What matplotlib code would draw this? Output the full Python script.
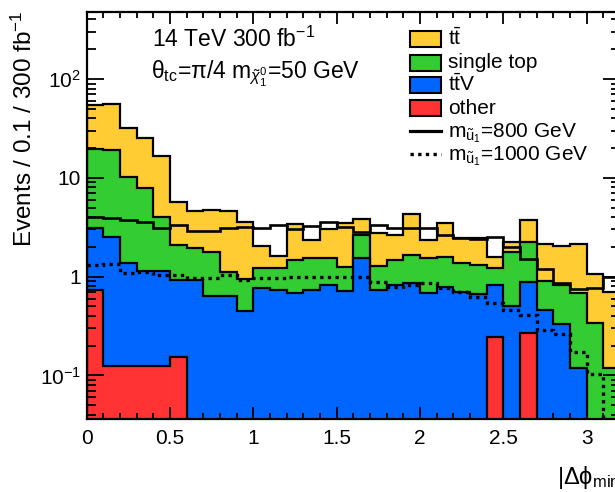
import matplotlib
matplotlib.use("Agg")
import matplotlib.pyplot as plt
import numpy as np
from matplotlib.patches import Rectangle
from matplotlib.lines import Line2D
from matplotlib.ticker import FixedLocator, NullFormatter, MultipleLocator

plt.rcParams['font.family'] = ['Liberation Sans', 'DejaVu Sans']
plt.rcParams['mathtext.fontset'] = 'custom'
plt.rcParams['mathtext.rm'] = 'Liberation Sans'
plt.rcParams['mathtext.it'] = 'Liberation Sans:italic'

W, H = 615, 492

# bin edges of |dphi_min|, width 0.1
edges = np.round(np.arange(0, 3.21, 0.1), 2)

# background components (events per bin), bottom to top
other = [0.73, 0.124, 0.124, 0.124, 0.124, 0.152, 0, 0, 0, 0, 0, 0, 0, 0, 0, 0,
         0, 0, 0, 0, 0, 0, 0, 0, 0.245, 0, 0.27, 0, 0, 0, 0, 0]
ttv = [2.37, 2.38, 1.24, 1.02, 1.02, 0.78, 0.93, 0.63, 0.63, 0.45, 0.77, 0.74, 0.68, 0.74, 0.82, 0.72,
       1.53, 0.74, 0.82, 0.855, 0.68, 0.79, 0.70, 0.66, 0.575, 0.50, 0.62, 0.46, 0.33, 0.118, 0, 0]
single_top = [16.4, 16.7, 8.74, 6.66, 2.84, 1.16, 1.0, 1.13, 0.49, 0.50, 0.46, 0.47, 0.79, 0.81, 0.71, 0.54,
              1.12, 0.54, 0.65, 0.795, 0.87, 0.80, 0.66, 0.65, 0.39, 1.29, 1.37, 0.44, 0.49, 0.56, 0.337, 0.118]
ttbar = [34.5, 36.8, 21.9, 17.2, 12.8, 3.61, 2.67, 2.94, 3.53, 2.62, 0.81, 0.41, 1.93, 0.82, 1.51, 2.22,
         1.14, 1.49, 1.18, 2.68, 0.82, 1.89, 1.10, 1.15, 0.37, 0.43, 1.47, 1.23, 1.23, 1.47, 0.73, 0.58]

# signals (not stacked)
sig_800 = [4.0, 3.95, 3.76, 3.54, 3.13, 3.33, 2.92, 2.92, 3.08, 3.2, 3.08, 3.33, 3.0, 3.27, 3.6, 3.2,
           2.85, 3.33, 3.08, 3.08, 3.08, 2.65, 2.46, 2.4, 2.51, 2.0, 1.5, 1.19, 0.86, 0.75, 0.77, 1.0]
sig_1000 = [1.31, 1.34, 1.08, 1.12, 1.04, 1.04, 0.975, 0.975, 1.04, 0.925, 0.96, 0.975, 1.0, 1.0, 1.0, 1.0,
            1.0, 0.89, 0.79, 0.82, 0.855, 0.77, 0.70, 0.62, 0.54, 0.46, 0.41, 0.29, 0.26, 0.173, 0.104, 0]

components = [other, ttv, single_top, ttbar]
colors = ['#ff3333', '#0066ff', '#33cc33', '#ffcc33']
labels = ['other', r'$\mathrm{t\bar{t}V}$', 'single top', r'$\mathrm{t\bar{t}}$']
dotted = (0, (1, 1.3))

fig = plt.figure(figsize=(W / 100, H / 100), dpi=100)
ax = fig.add_axes([86.7 / W, 1 - 419 / H, 533.3 / W, (419 - 12.3) / H])
ax.set_yscale('log')
ax.set_xlim(0, 3.2)
ax.set_ylim(0.0362, 473)

cum = np.cumsum(np.array(components, dtype=float), axis=0)
# draw the stack from the top down so each layer keeps its outline
for vals, col in zip(cum[::-1], colors[::-1]):
    ax.stairs(vals, edges, baseline=1e-3, fill=True, facecolor=col,
              edgecolor='black', linewidth=1.6, zorder=2)

ax.stairs(sig_800, edges, baseline=None, color='black', linewidth=1.9, zorder=3)
ax.stairs(np.where(np.array(sig_1000) > 0, sig_1000, 1e-3), edges, baseline=None,
          color='black', linewidth=2.4, linestyle=dotted, zorder=3)

# ROOT-like axes: ticks inside on all sides
ax.set_xticks([0, 0.5, 1, 1.5, 2, 2.5, 3])
ax.set_xticklabels(['0', '0.5', '1', '1.5', '2', '2.5', '3'])
ax.xaxis.set_minor_locator(MultipleLocator(0.1))
ax.set_yticks([0.1, 1, 10, 100])
ax.set_yticklabels([r'$10^{-1}$', '1', '10', r'$10^{2}$'])
minor = [m * 10.0 ** e for e in range(-2, 3) for m in range(2, 10)]
ax.yaxis.set_minor_locator(FixedLocator(minor))
ax.yaxis.set_minor_formatter(NullFormatter())
ax.tick_params(which='both', direction='in', top=True, right=True, labelsize=15, width=1.3)
ax.tick_params(axis='y', which='major', length=12, pad=4)
ax.tick_params(axis='y', which='minor', length=6.5)
ax.tick_params(axis='x', which='major', length=8.5, pad=7)
ax.tick_params(axis='x', which='minor', length=4.5)
for sp in ax.spines.values():
    sp.set_linewidth(1.6)
    sp.set_zorder(6)
ax.set_axisbelow(False)

# axis titles (ROOT style: y title at the top, x title at the right end)
fig.text(24 / W, 1 - 11 / H, r'Events / 0.1 / 300 fb$^{-1}$', rotation=90,
         ha='center', va='top', fontsize=17.5)
fig.text(557 / W, 1 - 484 / H, r'|Δϕ$_{\mathrm{min}}$|', ha='left', va='baseline', fontsize=17)

fig.text(152 / W, 1 - 47 / H, r'14 TeV 300 fb$^{-1}$', ha='left', va='baseline', fontsize=16.5)
fig.text(151 / W, 1 - 79 / H, r'θ$_{\mathrm{tc}}$=π/4 m$_{\tilde{\chi}^{0}_{1}}$=50 GeV',
         ha='left', va='baseline', fontsize=16.5)

# legend drawn in pixel positions
rows = [39.2, 62.5, 85.3, 108.3, 131, 154]
box_x0, box_x1, text_x = 410, 440.5, 448.5
for yc, col, lab in zip(rows[:4], colors[::-1], labels[::-1]):
    fig.patches.append(Rectangle((box_x0 / W, 1 - (yc + 8) / H), (box_x1 - box_x0) / W, 16 / H,
                                 transform=fig.transFigure, facecolor=col, edgecolor='black',
                                 linewidth=1.5))
    fig.text(text_x / W, 1 - (yc + 6) / H, lab, ha='left', va='baseline', fontsize=15)
sig_labels = [r'm$_{\tilde{\mathrm{u}}_{1}}$=800 GeV', r'm$_{\tilde{\mathrm{u}}_{1}}$=1000 GeV']
for yc, ls, lw, lab in zip(rows[4:], ['-', dotted], [2.3, 2.4], sig_labels):
    fig.lines.append(Line2D([box_x0 / W, box_x1 / W], [1 - yc / H, 1 - yc / H],
                            transform=fig.transFigure, color='black', linewidth=lw, linestyle=ls))
    fig.text(text_x / W, 1 - (yc + 6) / H, lab, ha='left', va='baseline', fontsize=15)

fig.savefig('out.png', dpi=100)
